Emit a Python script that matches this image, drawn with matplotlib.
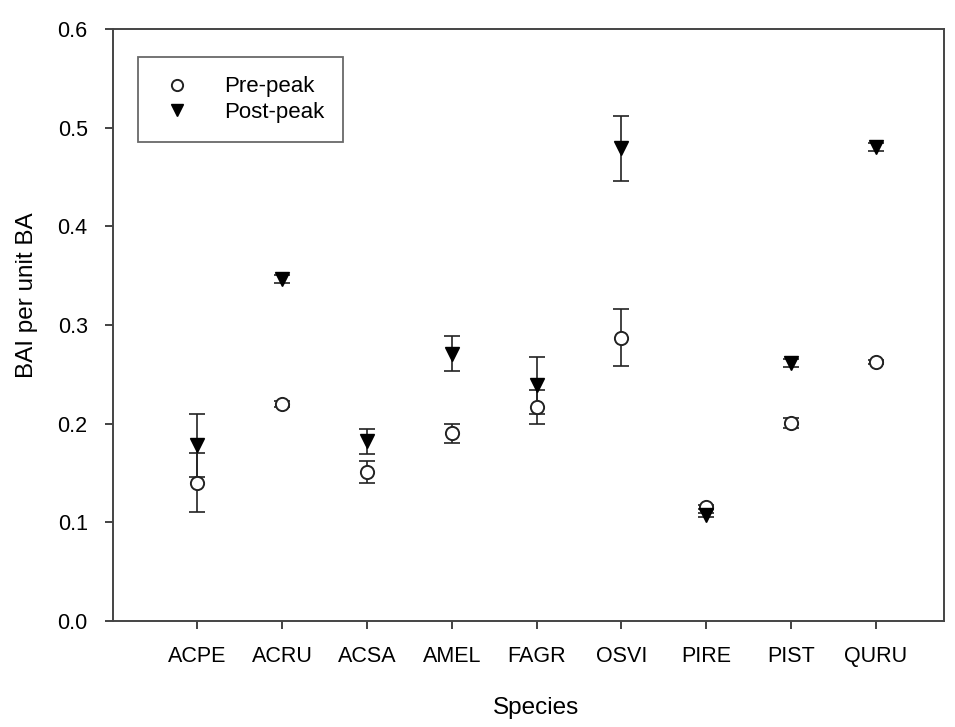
import matplotlib
matplotlib.use("Agg")
import matplotlib.pyplot as plt
import numpy as np

plt.rcParams['font.family'] = ['Liberation Sans', 'DejaVu Sans']

species = ['ACPE', 'ACRU', 'ACSA', 'AMEL', 'FAGR', 'OSVI', 'PIRE', 'PIST', 'QURU']

pre_mean = [0.140, 0.220, 0.151, 0.190, 0.217, 0.287, 0.115, 0.201, 0.262]
pre_err = [0.030, 0.003, 0.011, 0.010, 0.017, 0.029, 0.002, 0.005, 0.002]

post_mean = [0.178, 0.347, 0.182, 0.271, 0.239, 0.479, 0.107, 0.261, 0.480]
post_err = [0.032, 0.004, 0.013, 0.018, 0.029, 0.033, 0.002, 0.004, 0.004]

x = np.arange(1, len(species) + 1)
ink = '#222222'

fig = plt.figure(figsize=(9.55, 7.27), dpi=100)
ax = fig.add_axes([0.118, 0.146, 0.870, 0.814])

ax.errorbar(x, pre_mean, yerr=pre_err, fmt='none', ecolor=ink,
            elinewidth=1.2, capsize=6, capthick=1.2, zorder=2)
ax.errorbar(x, post_mean, yerr=post_err, fmt='none', ecolor=ink,
            elinewidth=1.2, capsize=6, capthick=1.2, zorder=2)
ax.plot(x, pre_mean, 'o', ms=9.5, mfc='white', mec=ink, mew=1.4,
        ls='none', label='Pre-peak', zorder=3)
ax.plot(x, post_mean, 'v', ms=10, mfc='black', mec='black',
        ls='none', label='Post-peak', zorder=4)

ax.set_xlim(0, 9.8)
ax.set_ylim(0, 0.6)
ax.set_xticks(x)
ax.set_xticklabels(species)
ax.set_yticks(np.arange(0, 0.61, 0.1))
ax.set_yticklabels([f'{v:.1f}' for v in np.arange(0, 0.61, 0.1)])
ax.tick_params(direction='out', length=6, width=1.2, colors=ink,
               labelsize=15.5, labelcolor='black', pad=12)
for s in ax.spines.values():
    s.set_linewidth(1.4)
    s.set_color('#444444')

ax.set_xlabel('Species', fontsize=17.5)
ax.set_ylabel('BAI per unit BA', fontsize=17.5)
ax.xaxis.set_label_coords(0.51, -0.128)
ax.yaxis.set_label_coords(-0.090, 0.55)

leg = ax.legend(loc='upper left', bbox_to_anchor=(0.031, 0.952), fontsize=16,
                frameon=True, fancybox=False, edgecolor='#444444',
                handletextpad=1.25, borderpad=0.85, labelspacing=0.2,
                borderaxespad=0, handlelength=1.75, markerscale=0.85)
leg.get_frame().set_linewidth(1.3)

fig.savefig('out.png', dpi=100)
